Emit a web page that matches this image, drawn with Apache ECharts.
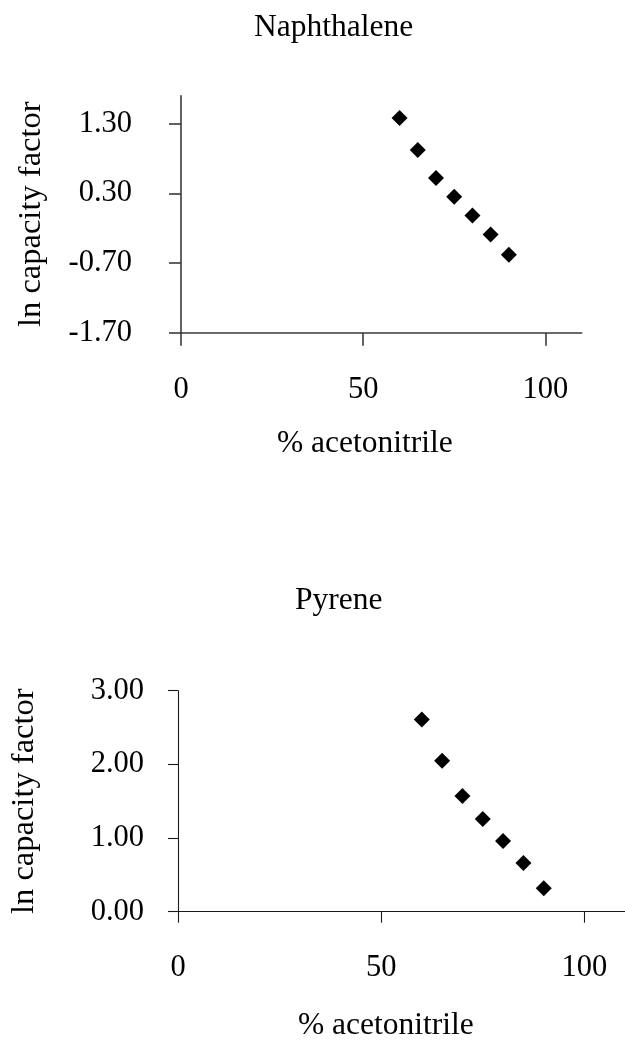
<!DOCTYPE html>
<html>
<head>
<meta charset="utf-8">
<script src="https://cdn.jsdelivr.net/npm/echarts@6/dist/echarts.min.js"></script>
<style>
html,body{margin:0;padding:0;background:#fff;}
#chart{width:625px;height:1043px;}
</style>
</head>
<body>
<div id="chart"></div>
<script>
// ---- data ----
const acetonitrile = [60, 65, 70, 75, 80, 85, 90];
const naphthaleneLnK = [1.38, 0.92, 0.52, 0.25, -0.02, -0.29, -0.58];
const pyreneLnK = [2.61, 2.05, 1.57, 1.26, 0.96, 0.66, 0.32];
const xTicks = [0, 50, 100];
const naphYTicks = [-1.7, -0.7, 0.3, 1.3];
const pyrYTicks = [0, 1, 2, 3];
const titles = ['Naphthalene', 'Pyrene'];
const xName = '% acetonitrile';
const yName = 'ln capacity factor';

const FONT = "'Liberation Serif', 'Times New Roman', serif";
const FS = 30.5;
const TFS = 31.5;
const chart = echarts.init(document.getElementById('chart'), null, {renderer: 'canvas'});

function pairs(xs, ys) { return xs.map((x, i) => [x, ys[i]]); }

function xAxisCfg(gridIndex, lineColor, lineWidth, tickLen, margin) {
  return {
    type: 'value', gridIndex, min: 0, max: 110,
    axisLine: {show: true, onZero: false, lineStyle: {color: lineColor, width: lineWidth}},
    axisTick: {show: true, inside: false, length: tickLen, customValues: xTicks, lineStyle: {color: lineColor, width: lineWidth}},
    axisLabel: {customValues: xTicks, margin, fontFamily: FONT, fontSize: FS, color: '#000'},
    splitLine: {show: false}
  };
}
function yAxisCfg(gridIndex, min, max, ticks, lineColor, lineWidth, tickLen, margin, nameGap) {
  return {
    type: 'value', gridIndex, min, max,
    name: yName, nameLocation: 'middle', nameRotate: 90, nameGap,
    nameTextStyle: {fontFamily: FONT, fontSize: 32.5, color: '#000'},
    axisLine: {show: true, onZero: false, lineStyle: {color: lineColor, width: lineWidth}},
    axisTick: {show: true, inside: false, length: tickLen, customValues: ticks, lineStyle: {color: lineColor, width: lineWidth}},
    axisLabel: {customValues: ticks, margin, fontFamily: FONT, fontSize: FS, color: '#000',
      formatter: v => v.toFixed(2)},
    splitLine: {show: false}
  };
}
const tStyle = {fontFamily: FONT, fontSize: TFS, fontWeight: 'normal', color: '#000'};

const option = {
  animation: false,
  backgroundColor: '#fff',
  title: [
    {text: titles[0], left: 254, top: 12, padding: 0, textStyle: tStyle},
    {text: xName, left: 277, top: 428, padding: 0, textStyle: tStyle},
    {text: titles[1], left: 295, top: 585, padding: 0, textStyle: tStyle},
    {text: xName, left: 298, top: 1010, padding: 0, textStyle: tStyle}
  ],
  grid: [
    {left: 181, top: 95.7, width: 400.7, height: 237, containLabel: false},
    {left: 176, top: 690.7, width: 452.4, height: 221, containLabel: false}
  ],
  xAxis: [
    xAxisCfg(0, '#3a3a3a', 1.6, 13, 42),
    xAxisCfg(1, '#1a1a1a', 1.1, 11, 41)
  ],
  yAxis: [
    yAxisCfg(0, -1.7, 1.7, naphYTicks, '#3a3a3a', 1.6, 12, 49, 133),
    yAxisCfg(1, 0, 3, pyrYTicks, '#1a1a1a', 1.1, 10, 34, 137)
  ],
  series: [
    {type: 'scatter', xAxisIndex: 0, yAxisIndex: 0, symbol: 'diamond', symbolSize: 16,
     itemStyle: {color: '#000', opacity: 1}, data: pairs(acetonitrile, naphthaleneLnK)},
    {type: 'scatter', xAxisIndex: 1, yAxisIndex: 1, symbol: 'diamond', symbolSize: 16,
     itemStyle: {color: '#000', opacity: 1}, data: pairs(acetonitrile, pyreneLnK)}
  ]
};
chart.setOption(option);
</script>
</body>
</html>
